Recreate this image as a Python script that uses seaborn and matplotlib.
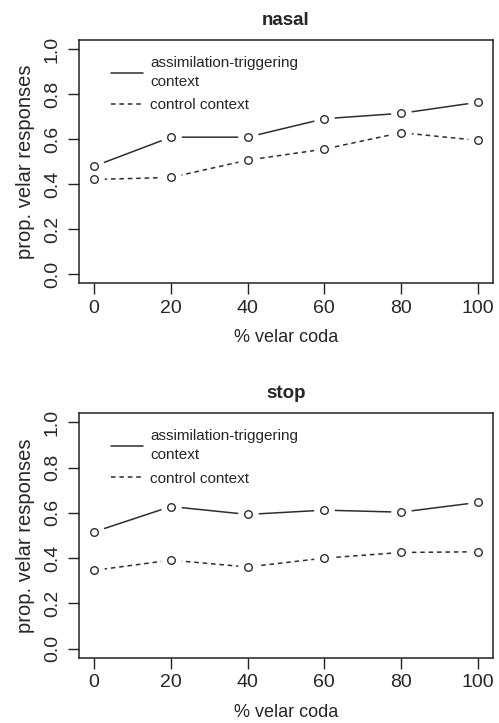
import pandas as pd
import matplotlib.pyplot as plt
import seaborn as sns

# Data
velar_coda = [0, 20, 40, 60, 80, 100]
nasal_assim = [0.479, 0.608, 0.608, 0.690, 0.714, 0.763]
nasal_control = [0.420, 0.429, 0.506, 0.555, 0.628, 0.594]
stop_assim = [0.516, 0.628, 0.593, 0.612, 0.603, 0.646]
stop_control = [0.346, 0.391, 0.361, 0.400, 0.425, 0.428]

ctx_labels = ["assimilation-triggering\ncontext", "control context"]
panels = [("nasal", nasal_assim, nasal_control),
          ("stop", stop_assim, stop_control)]

sns.set_style("white")
plt.rcParams['font.family'] = ['Liberation Sans', 'DejaVu Sans']

fig = plt.figure(figsize=(4.99, 7.23), dpi=100)
axes = [fig.add_axes([0.158, 0.6086, 0.830, 0.3361]),
        fig.add_axes([0.158, 0.0903, 0.830, 0.3381])]

line_col = '#2e2e2e'

for ax, (title, assim, control) in zip(axes, panels):
    df = pd.DataFrame({
        'coda': velar_coda * 2,
        'prop': assim + control,
        'context': [ctx_labels[0]] * 6 + [ctx_labels[1]] * 6,
    })
    sns.lineplot(data=df, x='coda', y='prop', style='context',
                 dashes={ctx_labels[0]: '', ctx_labels[1]: (3, 2.5)},
                 color=line_col, linewidth=1.1, ax=ax, legend=False,
                 zorder=2)
    # white masks give the R type="b" gaps around points
    ax.scatter(df['coda'], df['prop'], s=220, c='white',
               linewidths=0, zorder=5)
    sns.scatterplot(data=df, x='coda', y='prop', facecolor='white',
                    edgecolor=line_col, s=30, linewidth=1.0, ax=ax,
                    legend=False, zorder=6)

    ax.set_xlim(-4, 104)
    ax.set_ylim(-0.04, 1.04)
    ax.set_xticks(velar_coda)
    ax.set_yticks([0.0, 0.2, 0.4, 0.6, 0.8, 1.0])
    ax.set_yticklabels(['0.0', '0.2', '0.4', '0.6', '0.8', '1.0'],
                       rotation=90, va='center')
    ax.tick_params(axis='both', direction='out', length=8, width=1,
                   labelsize=14, color='#222', pad=4,
                   bottom=True, left=True)
    ax.tick_params(axis='y', pad=5)
    for s in ax.spines.values():
        s.set_color('#222')
        s.set_linewidth(1.1)
    ax.set_xlabel('% velar coda', fontsize=13, labelpad=9)
    ax.set_ylabel('prop. velar responses', fontsize=14.5, labelpad=6)
    ax.set_title(title, fontsize=13.5, fontweight='bold', pad=11)

    handles = [plt.Line2D([], [], color=line_col, lw=1.1),
               plt.Line2D([], [], color=line_col, lw=1.1, dashes=(3, 2.5))]
    leg = ax.legend(handles, ctx_labels, loc='upper left',
                    bbox_to_anchor=(0.045, 0.99), frameon=False,
                    fontsize=11, handlelength=2.1, handletextpad=0.45,
                    labelspacing=0.6)
    for t in leg.get_texts():
        t.set_linespacing(1.45)

fig.savefig('out.png', dpi=100)
